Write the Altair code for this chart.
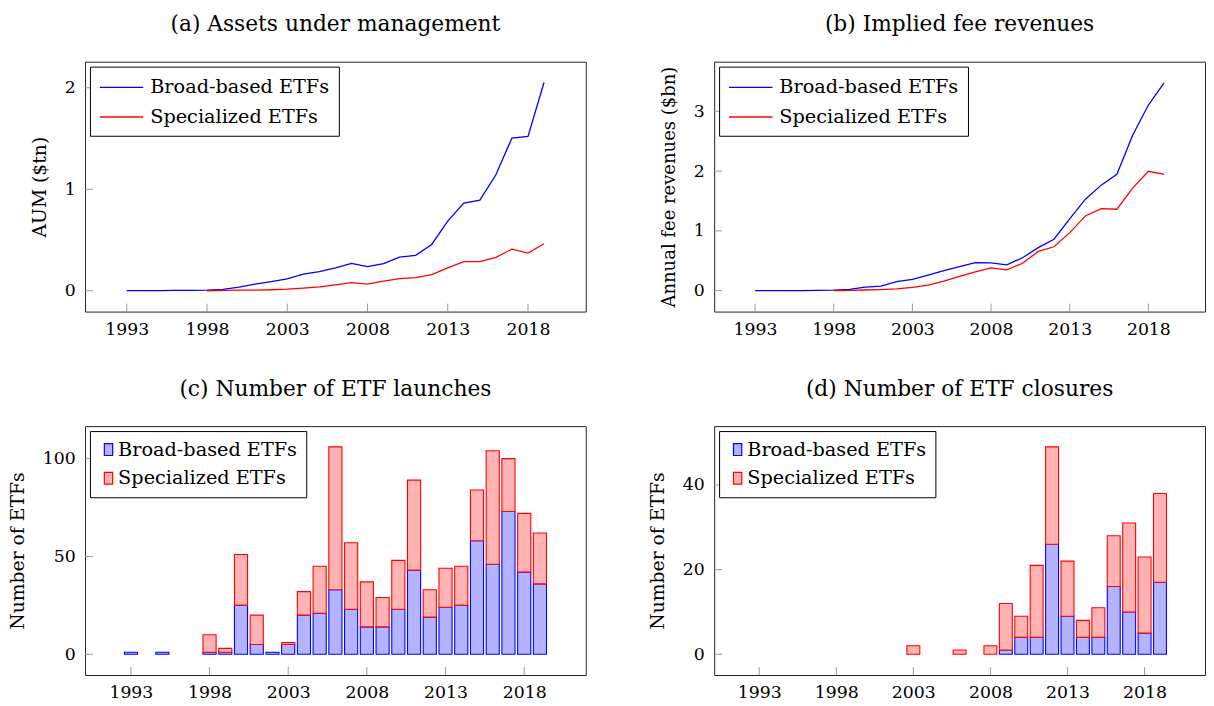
import altair as alt
import pandas as pd

FONT = "DejaVu Serif"
series_names = ["Broad-based ETFs", "Specialized ETFs"]
years = list(range(1993, 2020))
spec_years = list(range(1998, 2020))
xtick_vals = [1993, 1998, 2003, 2008, 2013, 2018]

# (a) AUM, $tn
aum_broad = [0.0005, 0.001, 0.002, 0.003, 0.004, 0.006, 0.013, 0.036, 0.065, 0.09,
             0.117, 0.163, 0.189, 0.225, 0.27, 0.238, 0.267, 0.332, 0.349, 0.456,
             0.687, 0.863, 0.893, 1.143, 1.505, 1.521, 2.052]
aum_spec = [0.0, 0.003, 0.006, 0.006, 0.01, 0.016, 0.026, 0.039, 0.059, 0.081, 0.065,
            0.094, 0.12, 0.13, 0.16, 0.225, 0.287, 0.287, 0.329, 0.41, 0.371, 0.463]

# (b) fee revenues, $bn
fee_broad = [0.0, 0.0, 0.001, 0.002, 0.004, 0.008, 0.02, 0.06, 0.077, 0.149, 0.19,
             0.26, 0.336, 0.40, 0.47, 0.463, 0.43, 0.55, 0.72, 0.86, 1.20, 1.53,
             1.765, 1.947, 2.60, 3.105, 3.475]
fee_spec = [0.0, 0.005, 0.011, 0.017, 0.028, 0.055, 0.094, 0.16, 0.237, 0.314, 0.38,
            0.347, 0.458, 0.656, 0.734, 0.97, 1.25, 1.373, 1.362, 1.715, 1.997, 1.947]

# (c) launches, 1993..2019
launch_broad = [1, 0, 1, 0, 0, 1, 1, 25, 5, 1, 5, 20, 21, 33, 23, 14, 14, 23, 43, 19,
                24, 25, 58, 46, 73, 42, 36]
launch_spec = [0, 0, 0, 0, 0, 9, 2, 26, 15, 0, 1, 12, 24, 73, 34, 23, 15, 25, 46, 14,
               20, 20, 26, 58, 27, 30, 26]

# (d) closures, 1993..2019
closure_broad = [0, 0, 0, 0, 0, 0, 0, 0, 0, 0, 0, 0, 0, 0, 0, 0, 1, 4, 4, 26,
                 9, 4, 4, 16, 10, 5, 17]
closure_spec = [0, 0, 0, 0, 0, 0, 0, 0, 0, 0, 2, 0, 0, 1, 0, 2, 11, 5, 17, 23,
                13, 4, 7, 12, 21, 18, 21]

XDOM = [1990.4, 2021.6]
TICK_COLOR = "#999999"
TICK_LEN = 8


def x_enc(field="year:Q"):
    return alt.X(field, scale=alt.Scale(domain=XDOM, nice=False, zero=False),
                 axis=alt.Axis(values=xtick_vals, format="d", title=None, ticks=False,
                               domain=False, grid=False, labelPadding=9))


def y_enc(ydom, yvals, ytitle, tsize, field="value:Q"):
    return alt.Y(field, scale=alt.Scale(domain=ydom, nice=False, zero=False),
                 axis=alt.Axis(values=yvals, title=ytitle, ticks=False, domain=False,
                               grid=False, labelPadding=10, titlePadding=15, format="d",
                               titleFontSize=tsize))


def tick_layers(ydom, yvals, ytitle, tsize, height):
    xt = alt.Chart(pd.DataFrame({"year": xtick_vals})).mark_rule(
        color=TICK_COLOR, strokeWidth=1).encode(
        x=x_enc(), y=alt.value(height), y2=alt.value(height - TICK_LEN))
    yt = alt.Chart(pd.DataFrame({"value": yvals})).mark_rule(
        color=TICK_COLOR, strokeWidth=1).encode(
        y=y_enc(ydom, yvals, ytitle, tsize), x=alt.value(0), x2=alt.value(TICK_LEN))
    return [xt, yt]


def line_panel(title, ytitle, tsize, broad, spec, ydom, yvals, width, height):
    df = pd.concat([
        pd.DataFrame({"year": years, "value": broad, "series": series_names[0]}),
        pd.DataFrame({"year": spec_years, "value": spec, "series": series_names[1]}),
    ])
    lines = alt.Chart(df).mark_line(strokeWidth=1.3).encode(
        x=x_enc(),
        y=y_enc(ydom, yvals, ytitle, tsize),
        color=alt.Color("series:N",
                        scale=alt.Scale(domain=series_names, range=["#0000ff", "#ff0000"]),
                        legend=alt.Legend(title=None, orient="top-left", symbolType="M-2,0L2,0",
                                          symbolSize=484, symbolStrokeWidth=1.3,
                                          symbolOffset=11, labelOffset=17,
                                          rowPadding=8)),
        order="year:Q",
    )
    return alt.layer(*tick_layers(ydom, yvals, ytitle, tsize, height), lines).properties(
        width=width, height=height, title=title)


def bar_panel(title, broad, spec, ydom, yvals, width, height, barw):
    ytitle = "Number of ETFs"
    tsize = 19
    rows = []
    for yr, b, s in zip(years, broad, spec):
        if b > 0:
            rows.append({"year": yr, "value": b, "base": 0, "series": series_names[0]})
        if s > 0:
            rows.append({"year": yr, "value": b + s, "base": b, "series": series_names[1]})
    df = pd.DataFrame(rows)
    leg = alt.Legend(title=None, orient="top-left",
                     symbolType="M-0.7,-1L0.7,-1L0.7,1L-0.7,1Z",
                     symbolSize=144, symbolStrokeWidth=1.2, labelOffset=0, rowPadding=8)
    bars = alt.Chart(df).mark_bar(width=barw, strokeWidth=1.1).encode(
        x=x_enc(),
        y=y_enc(ydom, yvals, ytitle, tsize),
        y2="base:Q",
        fill=alt.Fill("series:N",
                      scale=alt.Scale(domain=series_names, range=["#b3b3ff", "#ffb3b3"]),
                      legend=leg),
        stroke=alt.Stroke("series:N",
                          scale=alt.Scale(domain=series_names, range=["#0000ff", "#ff0000"]),
                          legend=leg),
    )
    return alt.layer(*tick_layers(ydom, yvals, ytitle, tsize, height), bars).properties(
        width=width, height=height, title=title)


W_L, W_R = 507, 497
H1, H2 = 253, 252

a = line_panel("(a) Assets under management", "AUM ($tn)", 19, aum_broad, aum_spec,
               [-0.205, 2.257], [0, 1, 2], W_L, H1)
b = line_panel("(b) Implied fee revenues", "Annual fee revenues ($bn)", 18.2, fee_broad, fee_spec,
               [-0.35, 3.83], [0, 1, 2, 3], W_R, H1)
c = bar_panel("(c) Number of ETF launches", launch_broad, launch_spec,
              [-10.6, 116.6], [0, 50, 100], W_L, H2, 13.3)
d = bar_panel("(d) Number of ETF closures", closure_broad, closure_spec,
              [-4.9, 53.9], [0, 20, 40], W_R, H2, 13.1)

chart = alt.concat(a, b, c, d, columns=2, spacing={"row": 39, "column": 62}).resolve_scale(
    color="independent", fill="independent", stroke="independent",
    x="independent", y="independent"
).resolve_legend(
    color="independent", fill="independent", stroke="independent"
).properties(
    padding={"left": 0, "top": 0, "right": 0, "bottom": 0}
).configure_view(
    stroke="#222222", strokeWidth=1
).configure_axis(
    labelFont=FONT, titleFont=FONT, labelFontSize=17.5, titleFontSize=19,
    titleFontWeight="normal", labelColor="black", titleColor="black"
).configure_legend(
    labelFont=FONT, labelFontSize=19.5, labelColor="black", fillColor="white",
    strokeColor="black", strokeWidth=1, padding=9, offset=5, cornerRadius=0,
    labelLimit=400
).configure_title(
    font=FONT, fontSize=22, fontWeight="normal", offset=26, color="black", anchor="middle"
)

chart.save("out.html", embed_options={"renderer": "svg", "actions": False})
